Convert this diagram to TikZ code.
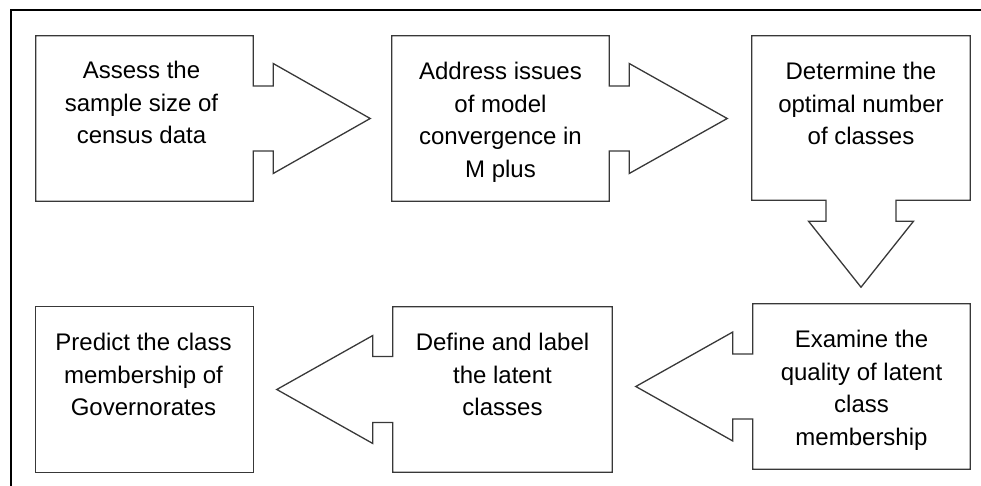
\documentclass[tikz,border=0pt]{standalone}
\usepackage{fontspec}
\setmainfont{Liberation Sans}
\usetikzlibrary{calc}

\tikzset{
  stepbox/.style={rectangle, draw=none, inner sep=0pt, minimum width=217pt, minimum height=165pt},
  outline/.style={draw=black!78, line width=1.3pt, line join=miter},
  % the base anchor of a multi-line node sits on its last line
  steptext/.style={align=center, inner sep=0pt, anchor=base, text=black,
                   font=\fontsize{24}{32.5}\selectfont},
  frame/.style={draw=black, line width=2pt}
}

\begin{document}
\begin{tikzpicture}[x=1pt, y=-1pt]
\useasboundingbox (0,0) rectangle (981,486);

% outer frame (open to the right and bottom)
\draw[frame] (11,520) -- (11,10) -- (1020,10);

% process steps
\node[stepbox] (b1) at (144.5,118.5) {};
\node[stepbox] (b2) at (500.5,118.5) {};
\node[stepbox, minimum width=218pt, minimum height=164pt] (b3) at (861,118) {};
\node[stepbox, minimum height=165pt] (b5) at (861.5,386.5) {};
\node[stepbox, minimum width=219pt] (b4) at (502.5,389.5) {};
\node[stepbox] (b6) at (144.5,389.5) {};

% box 1 with arrow pointing right
\draw[outline] ($(b1.east)+(0,-32.5)$) -- (b1.north east) -- (b1.north west)
  -- (b1.south west) -- (b1.south east) -- ($(b1.east)+(0,32.5)$)
  -- ++(20,0) -- ++(0,22.5) -- ($(b1.east)+(117,0)$)
  -- ($(b1.east)+(20,-55)$) -- ++(0,22.5) -- cycle;

% box 2 with arrow pointing right
\draw[outline] ($(b2.east)+(0,-32.5)$) -- (b2.north east) -- (b2.north west)
  -- (b2.south west) -- (b2.south east) -- ($(b2.east)+(0,32.5)$)
  -- ++(20,0) -- ++(0,22.5) -- ($(b2.east)+(118,0)$)
  -- ($(b2.east)+(20,-55)$) -- ++(0,22.5) -- cycle;

% box 3 with arrow pointing down
\draw[outline] ($(b3.south)+(35,0)$) -- (b3.south east) -- (b3.north east)
  -- (b3.north west) -- (b3.south west) -- ($(b3.south)+(-35,0)$)
  -- ++(0,21) -- ++(-17.5,0) -- ($(b3.south)+(0,87)$)
  -- ($(b3.south)+(52.5,21)$) -- ++(-17.5,0) -- cycle;

% box 5 with arrow pointing left
\draw[outline] ($(b5.west)+(0,-32.5)$) -- (b5.north west) -- (b5.north east)
  -- (b5.south east) -- (b5.south west) -- ($(b5.west)+(0,32.5)$)
  -- ++(-20,0) -- ++(0,22) -- ($(b5.west)+(-117,0)$)
  -- ($(b5.west)+(-20,-54.5)$) -- ++(0,22) -- cycle;

% box 4 with arrow pointing left
\draw[outline] ($(b4.west)+(0,-33)$) -- (b4.north west) -- (b4.north east)
  -- (b4.south east) -- (b4.south west) -- ($(b4.west)+(0,33)$)
  -- ++(-20,0) -- ++(0,21) -- ($(b4.west)+(-116,0)$)
  -- ($(b4.west)+(-20,-54)$) -- ++(0,21) -- cycle;

% box 6, the last step
\draw[outline] (b6.north west) rectangle (b6.south east);

% step texts: first baseline about 44pt below the box top, 32.5pt leading
\node[steptext] (t1) at ($(b1.north)+(-3,43+65)$) {Assess the\\sample size of\\census data};
\node[steptext] (t2) at ($(b2.north)+(0,44+97.5)$) {Address issues\\of model\\convergence in\\M plus};
\node[steptext] (t3) at ($(b3.north)+(0,44+65)$) {Determine the\\optimal number\\of classes};
\node[steptext] (t5) at ($(b5.north)+(0,44+97.5)$) {Examine the\\quality of latent\\class\\membership};
\node[steptext] (t4) at ($(b4.north)+(0,44+65)$) {Define and label\\the latent\\classes};
\node[steptext] (t6) at ($(b6.north)+(-1,44+65)$) {Predict the class\\membership of\\Governorates};
\end{tikzpicture}
\end{document}
